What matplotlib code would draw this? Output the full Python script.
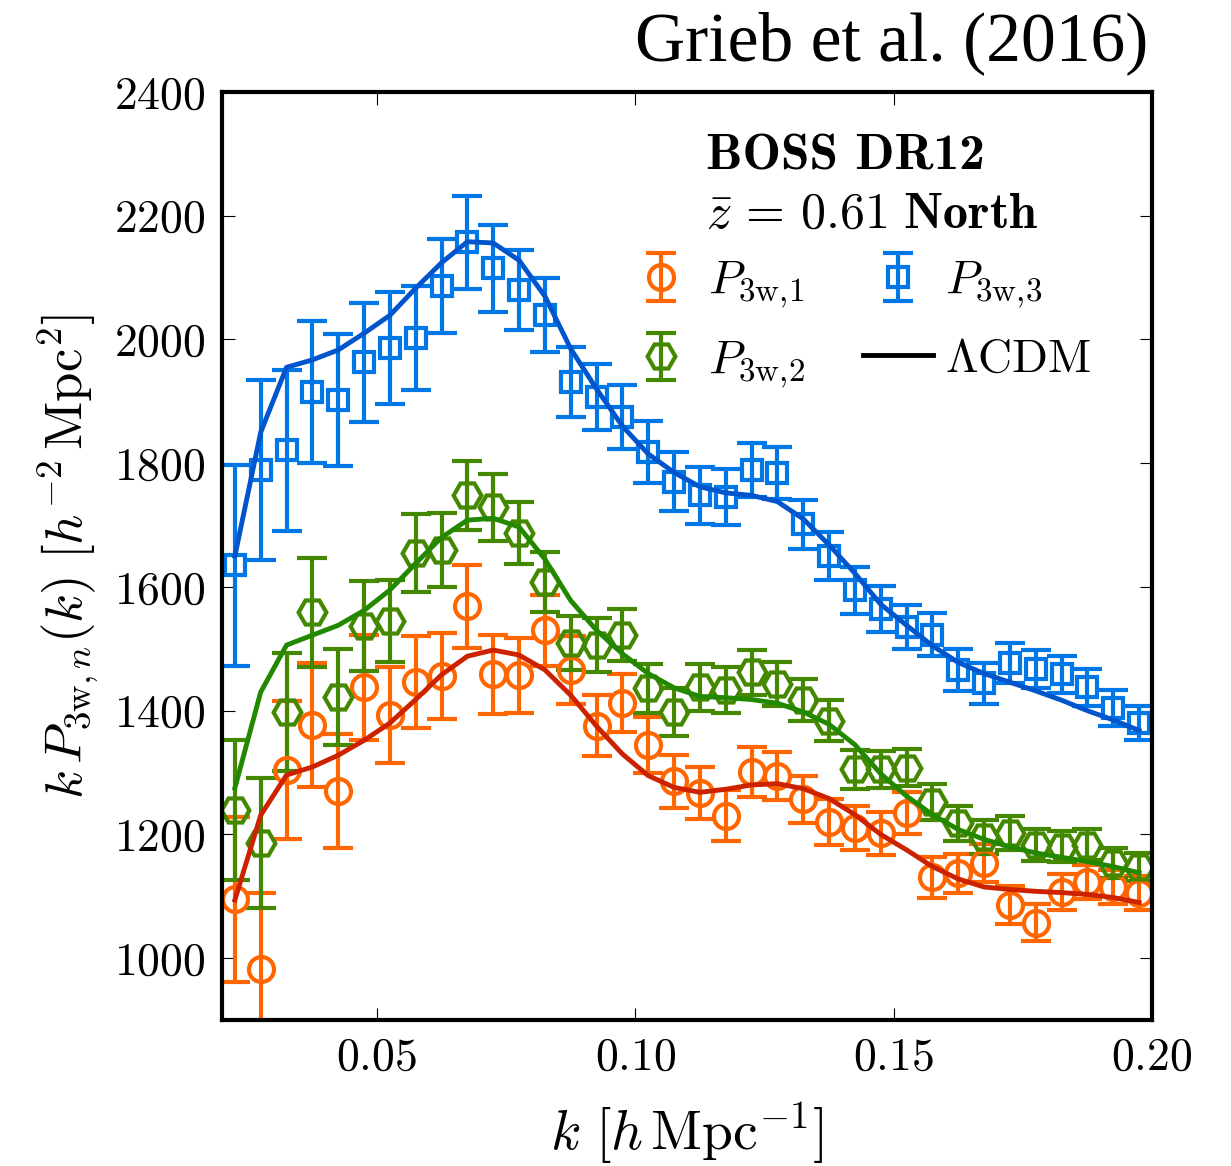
import matplotlib
matplotlib.use("Agg")
import matplotlib.pyplot as plt
from matplotlib.ticker import FixedLocator, FuncFormatter
import numpy as np

plt.rcParams['font.family'] = 'serif'
plt.rcParams['font.serif'] = ['cmr10']
plt.rcParams['mathtext.fontset'] = 'cm'
plt.rcParams['axes.unicode_minus'] = False

# k bins [h/Mpc]
k = [0.0225, 0.0275, 0.0325, 0.0375, 0.0425, 0.0475, 0.0525, 0.0575, 0.0625,
     0.0675, 0.0725, 0.0775, 0.0825, 0.0875, 0.0925, 0.0975, 0.1025, 0.1075,
     0.1125, 0.1175, 0.1225, 0.1275, 0.1325, 0.1375, 0.1425, 0.1475, 0.1525,
     0.1575, 0.1625, 0.1675, 0.1725, 0.1775, 0.1825, 0.1875, 0.1925, 0.1975]

# measured wedges (k*P) and errors
p1 = [1095, 982, 1304, 1377, 1270, 1438, 1393, 1446, 1456, 1569, 1459, 1457,
      1530, 1465, 1376, 1412, 1344, 1286, 1267, 1230, 1301, 1294, 1257, 1220,
      1210, 1202, 1234, 1131, 1137, 1154, 1086, 1057, 1107, 1123, 1115, 1105]
e1 = [133, 123, 112, 100, 92, 85, 78, 74, 69, 67, 64, 60,
      57, 55, 50, 47, 45, 43, 42, 41, 40, 39, 38, 37,
      36, 35, 34, 33, 32, 31, 30, 30, 29, 28, 28, 27]

p2 = [1239, 1186, 1398, 1559, 1422, 1537, 1545, 1655, 1660, 1748, 1729, 1687,
      1608, 1509, 1506, 1522, 1436, 1398, 1438, 1433, 1462, 1443, 1417, 1384,
      1305, 1305, 1308, 1252, 1218, 1196, 1202, 1183, 1180, 1183, 1154, 1147]
e2 = [113, 105, 95, 88, 78, 73, 67, 63, 60, 56, 54, 50,
      48, 44, 43, 42, 40, 39, 38, 37, 36, 35, 34, 33,
      31, 30, 30, 29, 28, 27, 27, 26, 25, 25, 24, 23]

p3 = [1635, 1789, 1821, 1915, 1902, 1963, 1986, 2002, 2086, 2157, 2115, 2080,
      2039, 1931, 1907, 1875, 1818, 1770, 1748, 1745, 1789, 1784, 1701, 1650,
      1595, 1564, 1535, 1523, 1465, 1444, 1477, 1467, 1459, 1438, 1405, 1380]
e3 = [162, 145, 130, 115, 107, 96, 90, 84, 76, 75, 70, 65,
      60, 57, 54, 52, 50, 48, 46, 45, 43, 42, 40, 39,
      38, 37, 36, 35, 34, 33, 32, 31, 30, 30, 29, 28]

# LCDM model
m1 = [1094, 1231, 1296, 1309, 1328, 1352, 1380, 1418, 1458, 1488, 1498, 1490,
      1466, 1425, 1375, 1330, 1295, 1276, 1268, 1273, 1280, 1282, 1274, 1258,
      1232, 1200, 1175, 1148, 1128, 1115, 1111, 1108, 1106, 1103, 1098, 1090]
m2 = [1275, 1430, 1506, 1522, 1538, 1562, 1595, 1638, 1680, 1708, 1711, 1697,
      1645, 1578, 1530, 1492, 1460, 1437, 1423, 1421, 1418, 1412, 1398, 1378,
      1345, 1298, 1262, 1232, 1208, 1192, 1180, 1170, 1163, 1156, 1148, 1138]
m3 = [1650, 1850, 1955, 1967, 1983, 2010, 2039, 2083, 2124, 2158, 2156, 2128,
      2070, 1985, 1920, 1860, 1815, 1785, 1762, 1752, 1748, 1738, 1710, 1668,
      1622, 1572, 1538, 1505, 1478, 1460, 1446, 1432, 1417, 1400, 1385, 1368]

fs = 33

fig = plt.figure(figsize=(12.31, 11.66), dpi=100)
ax = fig.add_axes([0.1803, 0.1252, 0.7555, 0.7959])

h1 = ax.errorbar(k, p1, yerr=e1, marker='o', ms=18, mfc='none', mec='#ff6600',
                 mew=3, color='#ff6600', ls='none', elinewidth=3, capsize=11, capthick=3,
                 label=r'$P_{\mathrm{3w},\!\mathrm{1}}$', zorder=2)
h2 = ax.errorbar(k, p2, yerr=e2, marker='H', ms=20, mfc='none', mec='#448800',
                 mew=3, color='#448800', ls='none', elinewidth=3, capsize=11, capthick=3,
                 label=r'$P_{\mathrm{3w},\!\mathrm{2}}$', zorder=2)
h3 = ax.errorbar(k, p3, yerr=e3, marker='s', ms=14, mfc='none', mec='#0077e6',
                 mew=3, color='#0077e6', ls='none', elinewidth=3, capsize=11, capthick=3,
                 label=r'$P_{\mathrm{3w},\!\mathrm{3}}$', zorder=2)

ax.plot(k, m1, color='#cc2200', lw=3.5, zorder=3)
ax.plot(k, m2, color='#228800', lw=3.5, zorder=3)
ax.plot(k, m3, color='#0055cc', lw=3.5, zorder=3)
hl, = ax.plot([], [], color='black', lw=3.5, label=r'$\Lambda\mathrm{CDM}$')

ax.set_xlim(0.02, 0.20)
ax.set_ylim(900, 2400)
ax.xaxis.set_major_locator(FixedLocator([0.05, 0.10, 0.15, 0.20]))
ax.xaxis.set_major_formatter(FuncFormatter(lambda v, p: r'$%.2f$' % v))
ax.yaxis.set_major_locator(FixedLocator([1000, 1200, 1400, 1600, 1800, 2000, 2200, 2400]))
ax.yaxis.set_major_formatter(FuncFormatter(lambda v, p: r'$%d$' % v))
ax.tick_params(direction='in', length=9, width=0.8, top=True, right=True,
               labelsize=fs, pad=12)
for s in ax.spines.values():
    s.set_linewidth(3)

ax.set_xlabel(r'$k\ [h\,\mathrm{Mpc}^{-1}]$', fontsize=fs + 7, labelpad=16)
ax.set_ylabel(r'$k\,P_{3\mathrm{w},n}(k)\ [h^{-2}\,\mathrm{Mpc}^{2}]$', fontsize=fs + 5,
              labelpad=10)

ax.text(0.52, 0.93, 'BOSS DR12', family='cmb10', transform=ax.transAxes,
        fontsize=fs + 4, ha='left', va='center')
ax.text(0.52, 0.868, r'$\bar{z}\,=\,0.61\ \mathbf{North}$', transform=ax.transAxes,
        fontsize=fs + 3, ha='left', va='center')

leg = ax.legend(handles=[h1, h2, h3, hl], ncol=2, loc='upper left',
                bbox_to_anchor=(0.434, 0.82), frameon=False, fontsize=fs + 1,
                handlelength=1.5, handletextpad=0.25, columnspacing=1.2,
                labelspacing=0.6, borderpad=0, borderaxespad=0, numpoints=1)

fig.text(0.933, 0.963, 'Grieb et al. (2016)', family='Liberation Serif',
         fontsize=50, ha='right', va='center')

fig.savefig('out.png', dpi=100)
